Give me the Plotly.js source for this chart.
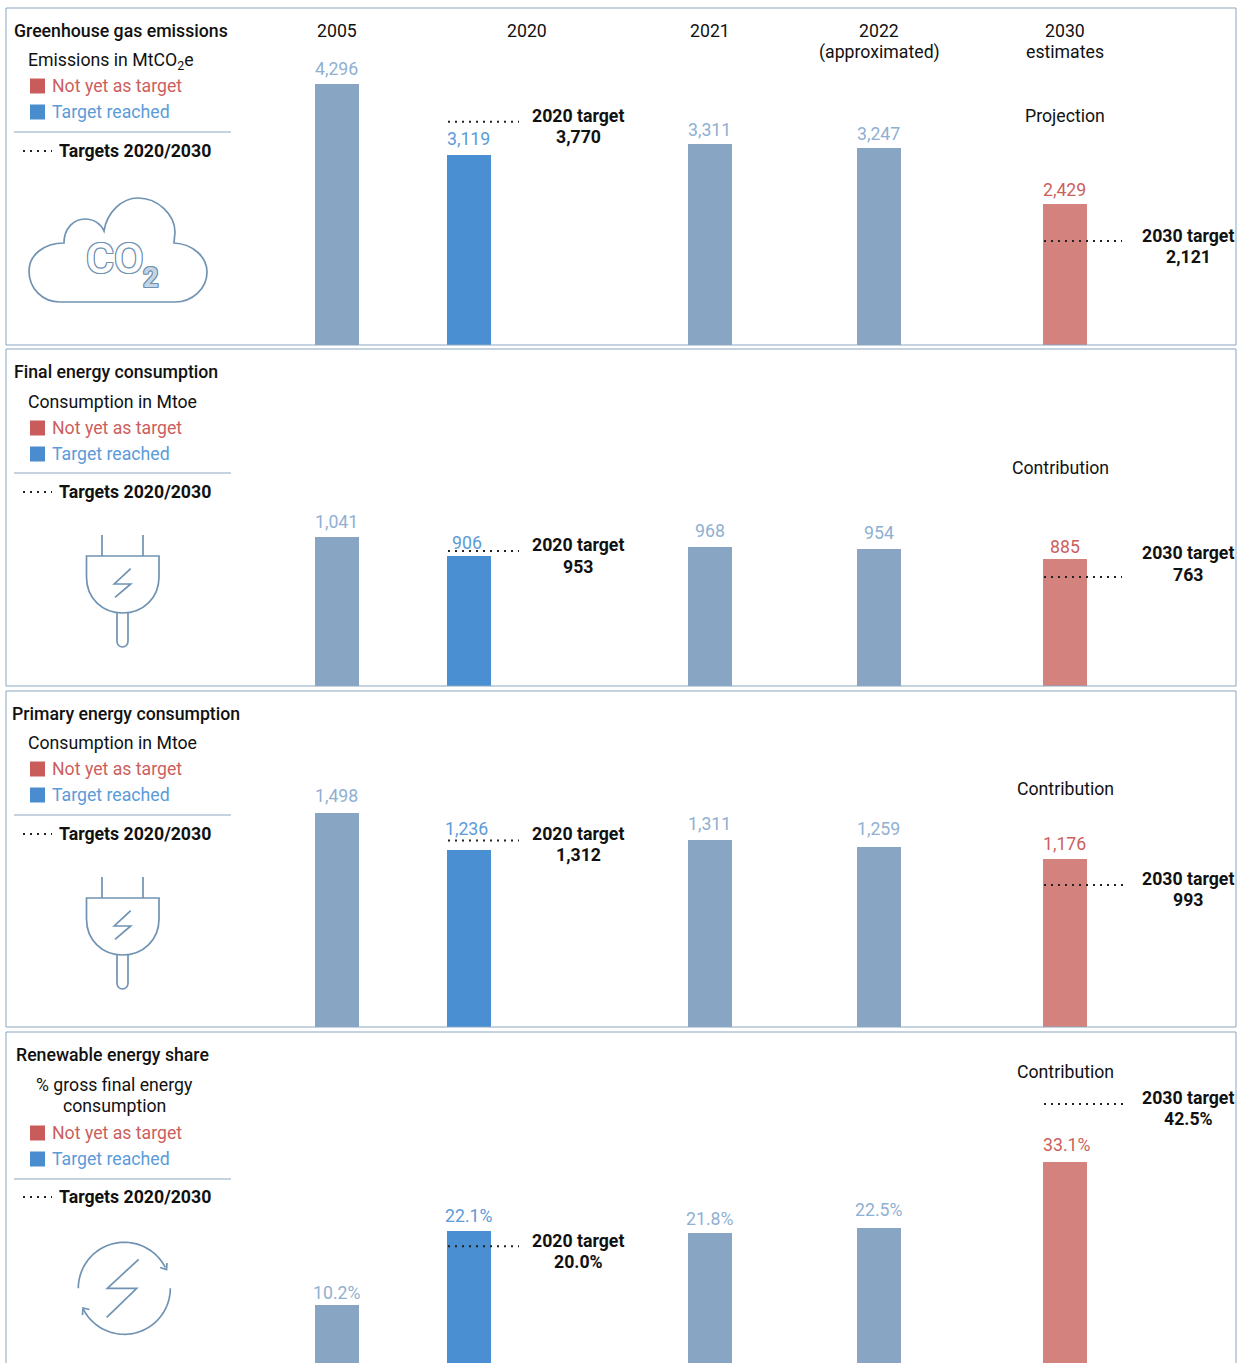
<!DOCTYPE html>
<html><head><meta charset="utf-8">
<script src="https://cdn.plot.ly/plotly-3.0.1.min.js"></script>
<style>html,body{margin:0;padding:0;background:#fff;overflow:hidden}#c{width:1242px;height:1363px}</style>
</head><body><div id="c"></div>
<script>
// ---------- data ----------
const periods = ['2005','2020','2021','2022','2030'];
const emissionsLabels = ['4,296','3,119','3,311','3,247','2,429'];
// bar lengths; the printed 2030 bar is shorter than its label on this scale
const emissionsBars = [4296,3119,3311,3247,2319];
const finalLabels = ['1,041','906','968','954','885'];
const finalBars = [1041,906,968,954,885];
const primaryLabels = ['1,498','1,236','1,311','1,259','1,176'];
const primaryBars = [1498,1236,1311,1259,1176];
const renewableLabels = ['10.2%','22.1%','21.8%','22.5%','33.1%'];
const renewableBars = [10.2,22.1,21.8,22.5,33.1];
// target levels as the dotted lines sit in the picture
const emissionsTargets = [3673,1711];
const finalTargets = [940,760];
const primaryTargets = [1305,993];
const renewableTargets = [19.6,42.4];
const emissionsTargetLabels = ['3,770','2,121'];
const finalTargetLabels = ['953','763'];
const primaryTargetLabels = ['1,312','993'];
const renewableTargetLabels = ['20.0%','42.5%'];
const panelTitles = ['Greenhouse gas emissions','Final energy consumption','Primary energy consumption','Renewable energy share'];

// ---------- layout constants (px on a 1242x1363 page) ----------
const W=1242,H=1363;
const barX=[337,469,710,879,1065], barW=44;
const C_GREY='#88a6c4',C_BLUE='#4a8fd1',C_RED='#d4827e',C_TGREY='#8fb0d2',C_TBLUE='#5b9bd8',C_TRED='#cb5f5d';
const barColors=[C_GREY,C_BLUE,C_GREY,C_GREY,C_RED];
const labelColors=[C_TGREY,C_TBLUE,C_TGREY,C_TGREY,C_TRED];
const FRAME='#8ba6c2',ICON='#7093b3',INK='#111';
const FONT='Roboto, sans-serif', FS=17.7;
const panels=[
 {top:8,bottom:345,vals:emissionsBars,labels:emissionsLabels,targets:emissionsTargets,tl:emissionsTargetLabels,y0:0,perPx:1/0.0608,labelDx:[-0.5,-0.5,-0.5,-0.5,-0.5],labelUp:[4,5,3,3,3],
  t:{title:31,titleX:13,sub:61,red:86,blue:112,rule:132,dots:151},tgt20:[116,137],tgt30:[236,257],end30:1122},
 {top:349,bottom:686,vals:finalBars,labels:finalLabels,targets:finalTargets,tl:finalTargetLabels,y0:0,perPx:1/0.1435,labelDx:[-0.5,-2.5,-0.5,-0.5,-0.5],labelUp:[4,2,5,5,1],
  t:{title:372,titleX:13,sub:402,red:428,blue:454,rule:473,dots:492},tgt20:[545,567],tgt30:[553,575],end30:1122},
 {top:691,bottom:1027,vals:primaryBars,labels:primaryLabels,targets:primaryTargets,tl:primaryTargetLabels,y0:0,perPx:1/0.1429,labelDx:[-0.5,-2.5,-0.5,-0.5,-0.5],labelUp:[6,10,5,7,4],
  t:{title:714,titleX:10.5,sub:743,red:769,blue:795,rule:815,dots:834},tgt20:[834,855],tgt30:[879,900],end30:1126},
 {top:1032,bottom:1363,vals:renewableBars,labels:renewableLabels,targets:renewableTargets,tl:renewableTargetLabels,y0:0.9,perPx:1/6.24,labelDx:[-0.5,-0.5,-0.5,-0.5,1.5],labelUp:[1,4,3,7,6],
  t:{title:1055,titleX:15,sub:null,red:1133,blue:1159,rule:1179,dots:1197},tgt20:[1241,1262],tgt30:[1098,1119],end30:1126}
];
const traces=[],ann=[],shapes=[];
const layout={width:W,height:H,margin:{l:0,r:0,t:0,b:0},paper_bgcolor:'#fff',plot_bgcolor:'rgba(0,0,0,0)',showlegend:false,bargap:0,
  font:{family:FONT,size:FS,color:INK},
  xaxis:{range:[0,W],visible:false,fixedrange:true,domain:[0,1],anchor:'y5'},
  yaxis5:{range:[H,0],visible:false,fixedrange:true,domain:[0,1],anchor:'x'}};
function txt(s,x,y,o={}){ann.push(Object.assign({text:s,x:x,y:y,xref:'x',yref:'y5',showarrow:false,xanchor:'center',yanchor:'middle',
  align:'center',borderpad:0,font:{family:FONT,size:FS,color:o.color||INK,weight:o.weight||400}},o.extra||{}));
  if(o.anchor)ann[ann.length-1].xanchor=o.anchor;}
function line(x0,y0,x1,y1,c,w,dash){shapes.push({type:'line',xref:'x',yref:'y5',x0,y0,x1,y1,layer:'above',line:{color:c,width:w,dash:dash||'solid'}});}

panels.forEach((p,i)=>{
  const n=i+1, yk='yaxis'+(i?n:''), yr='y'+(i?n:'');
  layout[yk]={domain:[(H-p.bottom)/H,(H-p.top)/H],range:[p.y0,p.y0+(p.bottom-p.top)*p.perPx],visible:false,fixedrange:true,anchor:'x'};
  traces.push({type:'bar',x:barX,y:p.vals.map(v=>v-p.y0),base:p.y0,width:barW,yaxis:yr,xaxis:'x',marker:{color:barColors,line:{width:0}},hoverinfo:'skip'});
  // value labels
  p.vals.forEach((v,k)=>ann.push({text:p.labels[k],x:barX[k],y:v,xref:'x',yref:yr,showarrow:false,xanchor:'center',yanchor:'bottom',yshift:p.labelUp[k],xshift:p.labelDx[k],borderpad:0,
     font:{family:FONT,size:FS,color:labelColors[k]}}));
  // target dotted lines
  [[448,519],[1044,p.end30]].forEach((xs,k)=>traces.push({type:'scatter',mode:'lines',x:xs,y:[p.targets[k],p.targets[k]],yaxis:yr,xaxis:'x',
     line:{color:'#222',width:2,dash:'2px,5px'},hoverinfo:'skip'}));
  txt('2020 target',578,p.tgt20[0],{weight:700}); txt(p.tl[0],578,p.tgt20[1],{weight:700});
  txt('2030 target',1188,p.tgt30[0],{weight:700}); txt(p.tl[1],1188,p.tgt30[1],{weight:700});
  // frame
  shapes.push({type:'rect',xref:'x',yref:'y5',x0:6,x1:1236,y0:p.top,y1:i==3?1400:p.bottom,layer:'below',line:{color:FRAME,width:1},fillcolor:'rgba(0,0,0,0)'});
  // side legend
  txt(panelTitles[i],p.t.titleX,p.t.title,{anchor:'left',weight:500});
  txt('Not yet as target',51,p.t.red,{anchor:'left',color:C_TRED});
  txt('Target reached',51,p.t.blue,{anchor:'left',color:C_TBLUE});
  shapes.push({type:'rect',xref:'x',yref:'y5',x0:30,x1:45,y0:p.t.red-7.5,y1:p.t.red+7.5,fillcolor:'#c95c5a',line:{width:0},layer:'above'});
  shapes.push({type:'rect',xref:'x',yref:'y5',x0:30,x1:45,y0:p.t.blue-7.5,y1:p.t.blue+7.5,fillcolor:'#4a8dcf',line:{width:0},layer:'above'});
  line(14,p.t.rule,231,p.t.rule,FRAME,1);
  traces.push({type:'scatter',mode:'lines',x:[23,52],y:[p.t.dots,p.t.dots],yaxis:'y5',xaxis:'x',line:{color:'#222',width:2,dash:'2px,5px'},hoverinfo:'skip'});
  txt('Targets 2020/2030',58,p.t.dots,{anchor:'left',weight:700});
});
txt('Emissions in MtCO<sub>2</sub>e',27,61,{anchor:'left'});
txt('Consumption in Mtoe',27,402,{anchor:'left'});
txt('Consumption in Mtoe',27,743,{anchor:'left'});
txt('% gross final energy',114.5,1085); txt('consumption',114.5,1106);
// column heads
txt('2005',337,31);txt('2020',527,31);txt('2021',709.5,31);txt('2022',879,31);txt('(approximated)',879,52);txt('2030',1065,31);txt('estimates',1065,52);
txt('Projection',1065,116);txt('Contribution',1060,468);txt('Contribution',1065,789);txt('Contribution',1065,1072);

// ---------- icons ----------
function path(d,w){shapes.push({type:'path',xref:'x',yref:'y5',path:d,layer:'above',line:{color:ICON,width:w||1.7},fillcolor:'rgba(0,0,0,0)'});}
path('M64,243 C64,228 74,219 85,219 C94,219 101,224 104,231 C107,212 122,198 138,198 C158,198 175,215 175,232 L174,243 C193,244 207,257 207,272 C207,289 192,302 175,302 L60,302 C42,302 29,288 29,271 C29,255 44,243 64,243 Z');
const ol=ICON, sh=`-1px 0 ${ol},1px 0 ${ol},0 -1px ${ol},0 1px ${ol},-1px -1px ${ol},1px 1px ${ol},1px -1px ${ol},-1px 1px ${ol}`;
ann.push({text:'CO',x:114.5,y:258,xref:'x',yref:'y5',showarrow:false,xanchor:'center',yanchor:'middle',font:{family:FONT,size:43,color:'#fff',weight:500,shadow:sh}});
ann.push({text:'2',x:150.5,y:278,xref:'x',yref:'y5',showarrow:false,xanchor:'center',yanchor:'middle',font:{family:FONT,size:27,color:'#c6d5e3',weight:700,shadow:sh}});
function plug(dy){
  const Y=v=>v+dy;
  path(`M102,${Y(535)} L102,${Y(556)} M143,${Y(535)} L143,${Y(556)}`);
  path(`M86.5,${Y(556)} L159,${Y(556)} L159,${Y(577)} C159,${Y(598)} 143,${Y(613)} 122.7,${Y(613)} C102,${Y(613)} 86.5,${Y(598)} 86.5,${Y(577)} Z`);
  path(`M117,${Y(613)} L117,${Y(641)} C117,${Y(649)} 128,${Y(649)} 128,${Y(641)} L128,${Y(613)}`);
  path(`M130.7,${Y(568.7)} L114.3,${Y(584)} L130.7,${Y(584)} L115,${Y(597.3)}`);
}
plug(0);plug(342);
function arc(cx,cy,r,a0,a1){let s='';const n=48;for(let i=0;i<=n;i++){const a=(a0+(a1-a0)*i/n)*Math.PI/180;s+=(i?' L':'M')+(cx+r*Math.cos(a)).toFixed(2)+','+(cy+r*Math.sin(a)).toFixed(2);}return s;}
path(arc(124.3,1288.3,46,180,333));
path(arc(124.3,1288.3,46,0,153));
path('M160,1267.5 L166.5,1269.5 L167,1263');
path('M89.5,1309.5 L83,1308 L82.5,1315');
path('M138.7,1259.3 L107.3,1288.3 L136.7,1288.3 L106.7,1317.3');

layout.annotations=ann;layout.shapes=shapes;
Plotly.newPlot('c',traces,layout,{staticPlot:true,displayModeBar:false});
</script></body></html>
